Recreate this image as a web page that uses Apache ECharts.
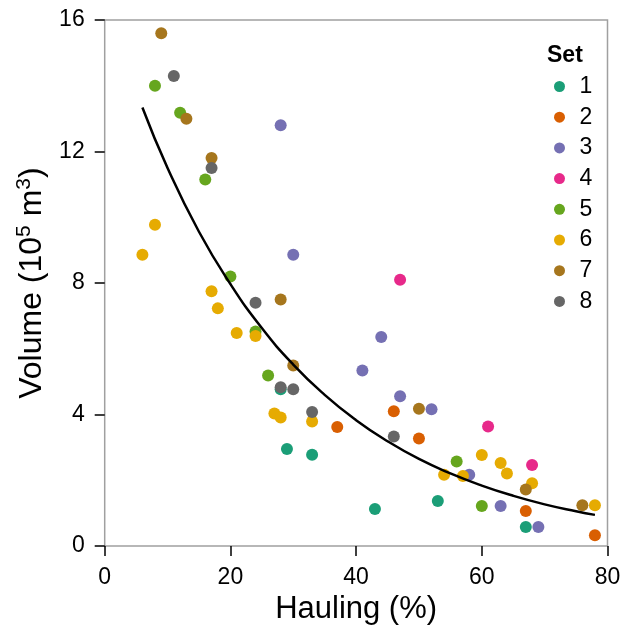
<!DOCTYPE html>
<html>
<head>
<meta charset="utf-8">
<script src="https://cdn.jsdelivr.net/npm/echarts@6/dist/echarts.min.js"></script>
<style>html,body{margin:0;padding:0;background:#fff;}#chart{width:625px;height:630px;}</style>
</head>
<body>
<div id="chart"></div>
<script>
// ---- data ----
const setNames = ['1', '2', '3', '4', '5', '6', '7', '8'];
const setColors = ['#1B9E77', '#D95F02', '#7570B3', '#E7298A', '#66A61E', '#E6AB02', '#A6761D', '#666666'];

const set1 = [[28, 4.77], [29, 2.95], [33, 2.78], [43, 1.13], [53, 1.37], [67, 0.58]];
const set2 = [[37, 3.62], [46, 4.10], [50, 3.27], [67, 1.07], [78, 0.33]];
const set3 = [[28, 12.8], [30, 8.86], [41, 5.34], [44, 6.36], [47, 4.56], [52, 4.16], [58, 2.17], [63, 1.22], [69, 0.58]];
const set4 = [[47, 8.10], [61, 3.64], [68, 2.47]];
const set5 = [[8, 14.0], [12, 13.18], [16, 11.15], [20, 8.20], [24, 6.53], [26, 5.19], [56, 2.57], [60, 1.22]];
const set6 = [[6, 8.86], [8, 9.77], [17, 7.75], [18, 7.23], [21, 6.48], [24, 6.39], [27, 4.03], [28, 3.91], [33, 3.79],
              [54, 2.17], [57, 2.13], [60, 2.77], [63, 2.53], [64, 2.21], [68, 1.91], [78, 1.24]];
const set7 = [[9, 15.6], [13, 13.0], [17, 11.8], [28, 7.50], [30, 5.49], [50, 4.18], [67, 1.72], [76, 1.24]];
const set8 = [[11, 14.3], [17, 11.5], [24, 7.40], [28, 4.83], [30, 4.77], [33, 4.08], [46, 3.33]];
const sets = [set1, set2, set3, set4, set5, set6, set7, set8];

// fitted curve, values
const fitX = [6, 10, 15, 20, 25, 30, 35, 40, 45, 50, 55, 60, 65, 70, 75, 78];
const fitY = [13.34, 11.5, 9.56, 7.97, 6.63, 5.52, 4.60, 3.83, 3.19, 2.65, 2.21, 1.84, 1.53, 1.27, 1.06, 0.95];

const xTicks = { min: 0, max: 80, interval: 20 };
const yTicks = { min: 0, max: 16, interval: 4 };

// ---- chart ----
const FONT = "'Liberation Sans', Arial, sans-serif";
const chart = echarts.init(document.getElementById('chart'), null, { renderer: 'canvas' });

const series = sets.map((d, i) => ({
  name: setNames[i],
  type: 'scatter',
  data: d,
  symbol: 'circle',
  symbolSize: 12,
  itemStyle: { color: setColors[i], opacity: 1 },
  z: 2 + i * 0.01
}));
series.push({
  name: 'fit',
  type: 'line',
  data: fitX.map((x, i) => [x, fitY[i]]),
  smooth: true,
  symbol: 'none',
  lineStyle: { color: '#000', width: 2.5 },
  z: 5,
  silent: true
});

const axisCommon = {
  axisLine: { show: false },
  axisTick: { show: true, length: 10, lineStyle: { color: '#000', width: 1.5 } },
  axisLabel: { fontSize: 23, color: '#000', fontFamily: FONT, margin: 20 },
  splitLine: { show: false }
};

chart.setOption({
  animation: false,
  backgroundColor: '#fff',
  textStyle: { fontFamily: FONT },
  title: {
    text: 'Set',
    left: 542, top: 39,
    textStyle: { fontSize: 23, fontWeight: 'bold', color: '#000', fontFamily: FONT }
  },
  legend: {
    data: setNames,
    orient: 'vertical',
    left: 549, top: 70,
    itemWidth: 30, itemHeight: 11,
    itemGap: 7.7,
    textStyle: { fontSize: 23, color: '#000', fontFamily: FONT },
    icon: 'circle',
    itemStyle: { borderWidth: 0 },
    selectedMode: false
  },
  grid: {
    left: 104.7, right: 17.5, top: 20, bottom: 79.5,
    show: true, borderColor: '#a0a0a0', borderWidth: 1.5, backgroundColor: 'transparent'
  },
  xAxis: Object.assign({}, axisCommon, {
    type: 'value',
    min: xTicks.min, max: xTicks.max, interval: xTicks.interval,
    name: 'Hauling (%)',
    nameLocation: 'middle',
    nameGap: 40,
    nameTextStyle: { fontSize: 31, color: '#000', fontFamily: FONT }
  }),
  yAxis: Object.assign({}, axisCommon, {
    type: 'value',
    min: yTicks.min, max: yTicks.max, interval: yTicks.interval,
    name: 'Volume (10{sup|5} m{sup|3})',
    nameLocation: 'middle',
    nameRotate: 90,
    nameGap: 50,
    nameTextStyle: {
      fontSize: 32, color: '#000', fontFamily: FONT,
      rich: { sup: { fontSize: 21, color: '#000', fontFamily: FONT, padding: [0, 0, 16, 0] } }
    }
  }),
  series: series
});
</script>
</body>
</html>
